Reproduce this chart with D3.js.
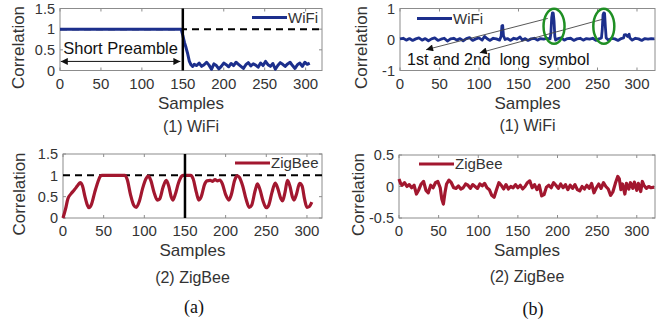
<!DOCTYPE html>
<html>
<head>
<meta charset="utf-8">
<script src="https://cdn.jsdelivr.net/npm/d3@7"></script>
<style>
  body { margin: 0; background: #fff; }
  svg { display: block; font-family: "Liberation Sans", Arial, sans-serif; }
  text { fill: #333; }
</style>
</head>
<body>
<div id="chart"></div>
<script>
// (a)(1) WiFi short preamble correlation  [sample, correlation]
const wifiShort = [
  [0, 1], [148, 1], [150, 0.85], [152, 0.68], [154, 0.55], [156, 0.4], [158, 0.22], [160, 0.14], [162, 0.1],
  [164, 0.15], [167, 0.12], [170, 0.18], [173, 0.1], [176, 0.14], [179, 0.2], [182, 0.13], [185, 0.03],
  [188, 0.16], [191, 0.12], [194, 0.04], [197, 0.1], [200, 0.18], [203, 0.14], [206, 0.09], [209, 0.17],
  [212, 0.12], [215, 0.2], [218, 0.15], [221, 0.1], [224, 0.05], [227, 0.14], [230, 0.19], [233, 0.11],
  [236, 0.16], [239, 0.13], [242, 0.08], [245, 0.18], [248, 0.12], [251, 0.22], [254, 0.14], [257, 0.1],
  [260, 0.17], [263, 0.03], [266, 0.12], [269, 0.19], [272, 0.15], [275, 0.1], [278, 0.16], [281, 0.2],
  [284, 0.12], [287, 0.05], [290, 0.14], [293, 0.18], [296, 0.1], [299, 0.2], [302, 0.15], [305, 0.18]
];

// (b)(1) WiFi long symbol correlation
const wifiLong = [
  [0, 0.02], [4, 0.04], [8, -0.02], [12, 0.03], [16, -0.03], [20, 0.02], [24, 0.05], [28, -0.02],
  [32, 0.03], [36, -0.04], [40, 0.02], [44, 0.05], [48, -0.03], [52, 0.01], [56, 0.04], [60, -0.05],
  [64, 0.02], [68, 0.04], [72, -0.02], [76, 0.03], [80, -0.04], [84, 0.03], [88, 0.06], [92, -0.03],
  [96, 0.02], [100, 0.05], [104, -0.02], [107, 0.1], [110, 0.03], [114, -0.03], [118, 0.04], [122, 0.02],
  [126, -0.02], [128, 0.1], [129, 0.44], [130, 0.45], [131, 0.12], [133, 0], [136, 0.03], [140, -0.03],
  [144, 0.04], [148, 0.01], [152, 0.08], [155, -0.02], [158, 0.03], [162, -0.03], [166, 0.02], [170, 0.04],
  [174, -0.02], [178, 0.03], [182, 0.01], [186, 0.04], [190, 0.02], [191, 0.2], [192, 0.7], [193, 0.86],
  [194, 0.85], [195, 0.6], [196, 0.1], [197, -0.02], [200, 0.03], [204, 0.05], [208, -0.02], [212, 0.03],
  [216, 0.04], [220, -0.03], [224, 0.02], [228, 0.04], [232, -0.02], [236, 0.03], [240, 0.01], [244, 0.04],
  [248, -0.03], [252, 0.02], [255, 0.05], [256, 0.3], [257, 0.8], [258, 0.86], [259, 0.84], [260, 0.4],
  [261, 0.05], [264, -0.02], [268, 0.04], [272, 0.02], [276, -0.03], [280, 0.03], [283, 0.05], [284, 0.15],
  [286, 0.16], [288, 0.1], [290, 0.17], [291, 0.05], [294, -0.02], [298, 0.04], [302, 0.02], [306, -0.03],
  [310, 0.03], [314, 0.01], [318, 0.03], [322, 0.02]
];

// (a)(2) ZigBee correlation
const zigbeeA = [
  [0, 0], [3, 0.2], [6, 0.45], [10, 0.57], [14, 0.66], [18, 0.76], [21, 0.83], [24, 0.75], [27, 0.5],
  [30, 0.3], [32, 0.24], [35, 0.32], [39, 0.6], [43, 0.85], [46, 0.98], [48, 1.0], [76, 1.0], [79, 0.9],
  [83, 0.55], [87, 0.3], [90, 0.25], [94, 0.4], [98, 0.7], [102, 0.92], [105, 0.98], [108, 0.88],
  [112, 0.6], [116, 0.42], [119, 0.45], [123, 0.72], [127, 0.88], [130, 0.75], [133, 0.5], [135, 0.42],
  [138, 0.55], [142, 0.82], [146, 0.98], [148, 1.0], [157, 1.0], [160, 0.92], [164, 0.6], [167, 0.42],
  [170, 0.5], [174, 0.78], [177, 0.87], [181, 0.88], [184, 0.86], [187, 0.9], [190, 0.87], [193, 0.89],
  [196, 0.8], [200, 0.55], [204, 0.42], [207, 0.55], [211, 0.88], [214, 0.99], [217, 0.95], [221, 0.75],
  [225, 0.45], [229, 0.25], [232, 0.3], [236, 0.62], [239, 0.8], [242, 0.68], [246, 0.4], [250, 0.24],
  [253, 0.3], [257, 0.6], [261, 0.82], [264, 0.7], [268, 0.45], [270, 0.4], [273, 0.6], [276, 0.88],
  [279, 0.75], [282, 0.5], [284, 0.42], [287, 0.55], [291, 0.81], [294, 0.75], [297, 0.45], [300, 0.25],
  [303, 0.27], [306, 0.37]
];

// (b)(2) ZigBee correlation
const zigbeeB = [
  [0, 0.12], [2, 0.05], [4, 0.02], [7, 0.06], [10, 0.0], [13, 0.03], [16, -0.02], [19, 0.02], [22, -0.12],
  [25, -0.05], [28, 0.04], [31, 0.08], [34, -0.06], [37, -0.1], [40, 0.02], [43, -0.02], [46, 0.06],
  [49, 0.08], [52, -0.02], [54, -0.2], [56, -0.28], [58, -0.1], [60, 0.04], [63, 0.1], [66, 0.06],
  [69, -0.02], [72, -0.03], [75, 0.01], [78, -0.04], [81, -0.02], [84, 0.04], [87, 0.02], [90, -0.03],
  [93, 0.03], [96, 0.0], [99, -0.03], [102, 0.04], [105, 0.01], [108, 0.05], [111, -0.02], [114, -0.05],
  [117, -0.14], [120, -0.17], [123, -0.05], [126, 0.06], [129, 0.02], [132, -0.04], [135, 0.03],
  [138, -0.04], [141, 0.0], [144, -0.02], [147, 0.03], [150, -0.02], [153, 0.02], [156, -0.04], [159, 0.0],
  [162, 0.06], [165, 0.09], [168, -0.02], [171, 0.03], [174, -0.05], [177, 0.02], [180, -0.15],
  [183, -0.13], [186, -0.01], [189, 0.02], [192, -0.02], [195, 0.06], [198, 0.02], [201, -0.03],
  [204, 0.04], [207, -0.02], [210, 0.03], [213, -0.05], [216, 0.02], [219, -0.03], [222, 0.03],
  [225, -0.05], [228, -0.07], [231, 0.0], [234, -0.04], [237, 0.02], [240, -0.03], [243, 0.05],
  [246, -0.1], [249, -0.02], [252, 0.04], [255, -0.03], [258, 0.06], [261, 0.0], [264, -0.04],
  [267, -0.14], [270, -0.08], [273, 0.05], [276, 0.16], [278, 0.12], [280, -0.05], [282, 0.04],
  [285, -0.12], [287, 0.05], [290, -0.04], [292, 0.06], [295, -0.03], [297, 0.07], [300, -0.06],
  [302, 0.05], [305, -0.08], [307, 0.08], [309, 0.02], [312, -0.03], [315, 0.0], [318, -0.02], [322, -0.01]
];

const xTicks = [0, 50, 100, 150, 200, 250, 300];
const yTicksShort = [0, 0.5, 1, 1.5];
const yTicksLong = [-1, 0, 1];
const yTicksZig = [-0.5, 0, 0.5];

const BLUE = '#1c2f8c';
const RED = '#a2172f';
const GREEN = '#1f8f24';

const svg = d3.select('#chart').append('svg')
  .attr('width', 663)
  .attr('height', 325);

const defs = svg.append('defs');
function marker(id, path) {
  defs.append('marker')
    .attr('id', id)
    .attr('viewBox', '0 0 10 10')
    .attr('refX', 10).attr('refY', 5)
    .attr('markerWidth', 9).attr('markerHeight', 7)
    .attr('markerUnits', 'userSpaceOnUse')
    .attr('orient', 'auto-start-reverse')
    .append('path')
    .attr('d', path)
    .attr('fill', '#111');
}
marker('arrowBlack', 'M0,0 L10,5 L0,10 z');

function panel(cfg) {
  const x = d3.scaleLinear().domain(cfg.xDomain).range([cfg.left, cfg.right]);
  const y = d3.scaleLinear().domain(cfg.yDomain).range([cfg.bottom, cfg.top]);
  const g = svg.append('g');

  // box
  g.append('rect')
    .attr('x', cfg.left).attr('y', cfg.top)
    .attr('width', cfg.right - cfg.left).attr('height', cfg.bottom - cfg.top)
    .attr('fill', 'none').attr('stroke', '#8c8c8c').attr('stroke-width', 1);

  // inward ticks on all sides
  const tickLen = 3;
  xTicks.forEach(t => {
    g.append('line').attr('x1', x(t)).attr('x2', x(t)).attr('y1', cfg.bottom).attr('y2', cfg.bottom - tickLen)
      .attr('stroke', '#8c8c8c');
    g.append('line').attr('x1', x(t)).attr('x2', x(t)).attr('y1', cfg.top).attr('y2', cfg.top + tickLen)
      .attr('stroke', '#8c8c8c');
    g.append('text').attr('x', x(t)).attr('y', cfg.bottom + 18)
      .attr('text-anchor', 'middle').style('font-size', '15px').text(t);
  });
  cfg.yTicks.forEach(t => {
    g.append('line').attr('x1', cfg.left).attr('x2', cfg.left + tickLen).attr('y1', y(t)).attr('y2', y(t))
      .attr('stroke', '#8c8c8c');
    g.append('line').attr('x1', cfg.right).attr('x2', cfg.right - tickLen).attr('y1', y(t)).attr('y2', y(t))
      .attr('stroke', '#8c8c8c');
    g.append('text').attr('x', cfg.left - 5).attr('y', y(t)).attr('dy', '0.36em')
      .attr('text-anchor', 'end').style('font-size', '14.5px').text(t);
  });

  // axis titles
  const cx = (cfg.left + cfg.right) / 2;
  g.append('text').attr('x', cx).attr('y', cfg.bottom + 38)
    .attr('text-anchor', 'middle').style('font-size', '17px').text('Samples');
  g.append('text')
    .attr('transform', 'translate(' + cfg.yLabelX + ',' + ((cfg.top + cfg.bottom) / 2 + 8) + ') rotate(-90)')
    .attr('text-anchor', 'middle').style('font-size', '17px').text('Correlation');
  g.append('text').attr('x', cx).attr('y', cfg.bottom + cfg.subDy)
    .attr('text-anchor', 'middle').style('font-size', '16px').text(cfg.sub);

  return { x, y, g };
}

const line = (p) => d3.line().x(d => p.x(d[0])).y(d => p.y(d[1]));

function legend(p, lx, ly, color, label) {
  p.g.append('line').attr('x1', lx).attr('x2', lx + 35).attr('y1', ly).attr('y2', ly)
    .attr('stroke', color).attr('stroke-width', 3);
  p.g.append('text').attr('x', lx + 36).attr('y', ly).attr('dy', '0.36em')
    .style('font-size', '15px').text(label);
}

// ---- (a)(1) WiFi
const p1 = panel({ left: 60, right: 322, top: 8.5, bottom: 70.5, xDomain: [0, 320], yDomain: [0, 1.5],
  yTicks: yTicksShort, yLabelX: 24, sub: '(1) WiFi', subDy: 61.5 });
p1.g.append('line').attr('x1', p1.x(0)).attr('x2', p1.x(320)).attr('y1', p1.y(1)).attr('y2', p1.y(1))
  .attr('stroke', '#000').attr('stroke-width', 2).attr('stroke-dasharray', '7,5');
p1.g.append('path').datum(wifiShort).attr('d', line(p1))
  .attr('fill', 'none').attr('stroke', BLUE).attr('stroke-width', 3).attr('stroke-linejoin', 'round');
p1.g.append('line').attr('x1', p1.x(150)).attr('x2', p1.x(150)).attr('y1', p1.y(0)).attr('y2', p1.y(1.5))
  .attr('stroke', '#000').attr('stroke-width', 2.5);
p1.g.append('text').attr('x', p1.x(4)).attr('y', p1.y(0.4))
  .style('font-size', '16.5px').style('fill', '#111').text('Short Preamble');
p1.g.append('line').attr('x1', p1.x(1)).attr('x2', p1.x(147)).attr('y1', p1.y(0.22)).attr('y2', p1.y(0.22))
  .attr('stroke', '#111').attr('stroke-width', 1)
  .attr('marker-start', 'url(#arrowBlack)').attr('marker-end', 'url(#arrowBlack)');
legend(p1, 252, 17.5, BLUE, 'WiFi');

// ---- (b)(1) WiFi
const p2 = panel({ left: 400, right: 655, top: 8.5, bottom: 70.5, xDomain: [0, 322.8], yDomain: [-1, 1],
  yTicks: yTicksLong, yLabelX: 367, sub: '(1) WiFi', subDy: 60.5 });
p2.g.append('path').datum(wifiLong).attr('d', line(p2))
  .attr('fill', 'none').attr('stroke', BLUE).attr('stroke-width', 2.8).attr('stroke-linejoin', 'round');
[[187, 0.68, 33, -0.33], [256, 0.65, 101, -0.43]].forEach(a => {
  p2.g.append('line').attr('x1', p2.x(a[0])).attr('y1', p2.y(a[1])).attr('x2', p2.x(a[2])).attr('y2', p2.y(a[3]))
    .attr('stroke', '#444').attr('stroke-width', 0.9).attr('marker-end', 'url(#arrowBlack)');
});
[195, 258].forEach(s => {
  p2.g.append('ellipse').attr('cx', p2.x(s)).attr('cy', p2.y(0.43)).attr('rx', 10.5).attr('ry', 17.5)
    .attr('fill', 'none').attr('stroke', GREEN).attr('stroke-width', 2.5);
});
p2.g.append('text').attr('x', p2.x(9)).attr('y', p2.y(-0.81))
  .attr('xml:space', 'preserve').style('white-space', 'pre')
  .style('font-size', '16px').style('fill', '#111').text('1st and 2nd  long  symbol');
legend(p2, 417, 18.5, BLUE, 'WiFi');

// ---- (a)(2) ZigBee
const p3 = panel({ left: 63, right: 322, top: 154, bottom: 218, xDomain: [0, 318.5], yDomain: [0, 1.5],
  yTicks: yTicksShort, yLabelX: 25, sub: '(2) ZigBee', subDy: 65 });
p3.g.append('line').attr('x1', p3.x(0)).attr('x2', p3.x(318.5)).attr('y1', p3.y(1)).attr('y2', p3.y(1))
  .attr('stroke', '#000').attr('stroke-width', 2).attr('stroke-dasharray', '7,5');
p3.g.append('path').datum(zigbeeA).attr('d', line(p3).curve(d3.curveMonotoneX))
  .attr('fill', 'none').attr('stroke', RED).attr('stroke-width', 3.2).attr('stroke-linejoin', 'round');
p3.g.append('line').attr('x1', p3.x(150)).attr('x2', p3.x(150)).attr('y1', p3.y(0)).attr('y2', p3.y(1.5))
  .attr('stroke', '#000').attr('stroke-width', 2.5);
legend(p3, 235, 163, RED, 'ZigBee');

// ---- (b)(2) ZigBee
const p4 = panel({ left: 399, right: 655, top: 155, bottom: 218, xDomain: [0, 323], yDomain: [-0.5, 0.5],
  yTicks: yTicksZig, yLabelX: 364, sub: '(2) ZigBee', subDy: 64 });
p4.g.append('path').datum(zigbeeB).attr('d', line(p4))
  .attr('fill', 'none').attr('stroke', RED).attr('stroke-width', 3.2).attr('stroke-linejoin', 'round');
legend(p4, 419, 164, RED, 'ZigBee');

// sub-figure captions
svg.append('text').attr('x', 194).attr('y', 313).attr('text-anchor', 'middle')
  .style('font-family', '"Liberation Serif", "Times New Roman", serif').style('font-size', '18px')
  .style('fill', '#111').text('(a)');
svg.append('text').attr('x', 533).attr('y', 315).attr('text-anchor', 'middle')
  .style('font-family', '"Liberation Serif", "Times New Roman", serif').style('font-size', '18px')
  .style('fill', '#111').text('(b)');
</script>
</body>
</html>
